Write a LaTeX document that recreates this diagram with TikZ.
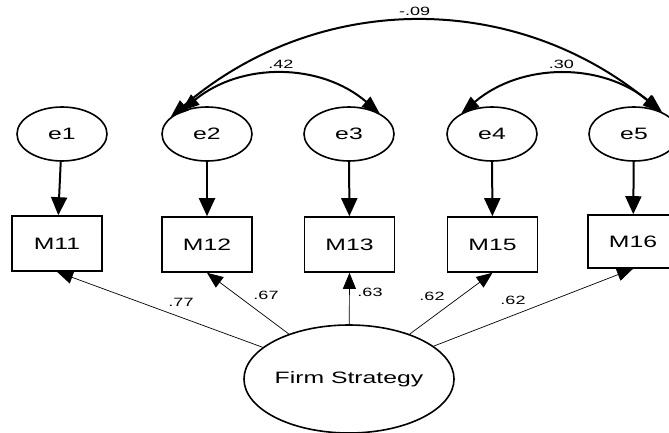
\documentclass[tikz,border=0pt]{standalone}
\usepackage{fontspec}
\setmainfont{Liberation Sans}[FakeStretch=1.5]
\usetikzlibrary{arrows.meta,shapes.geometric}
\begin{document}
\begin{tikzpicture}[x=1pt,y=1pt,
  err/.style={draw, ellipse, line width=1.6pt, minimum width=90pt, minimum height=54pt, inner sep=0pt, font=\fontsize{16.5}{18}\selectfont},
  obs/.style={draw, rectangle, line width=1.6pt, minimum width=90pt, minimum height=55pt, inner sep=0pt, font=\fontsize{16.5}{18}\selectfont},
  lat/.style={draw, ellipse, line width=1.6pt, minimum width=182pt, minimum height=108pt, inner sep=0pt, font=\fontsize{16.5}{18}\selectfont},
  lbl/.style={font=\fontsize{12}{14}\selectfont, inner sep=1pt},
  regpath/.style={-{Triangle[length=18pt,width=16pt]}, line width=2pt},
  loadpath/.style={-{Triangle[length=16pt,width=13pt]}, line width=0.7pt},
  covpath/.style={{Triangle[length=18pt,width=13pt]}-{Triangle[length=18pt,width=13pt]}, line width=2pt},
]
\useasboundingbox (0,0) rectangle (669,-433);
\clip (0,0) rectangle (669,-433);
% error terms
\node[err] (e1) at (62,-134) {e1};
\node[err] (e2) at (207,-134) {e2};
\node[err] (e3) at (349,-134) {e3};
\node[err] (e4) at (492,-134) {e4};
\node[err] (e5) at (634,-134) {e5};
% observed
\node[obs] (M11) at (57,-243.5) {M11};
\node[obs] (M12) at (207,-244.5) {M12};
\node[obs] (M13) at (349.5,-244.5) {M13};
\node[obs] (M15) at (492.5,-244.5) {M15};
\node[obs, minimum height=53pt] (M16) at (633,-241.5) {M16};
% latent
\node[lat] (FS) at (349,-379) {Firm Strategy};
% error paths
\draw[regpath] (e1) -- (M11);
\draw[regpath] (e2) -- (M12);
\draw[regpath] (e3) -- (M13);
\draw[regpath] (e4) -- (M15);
\draw[regpath] (e5) -- (M16);
% loadings
\draw[loadpath] (FS) -- (M11.south);
\draw[loadpath] (FS) -- (M12.south);
\draw[loadpath] (FS) -- (M13.south);
\draw[loadpath] (FS) -- (M15.south);
\draw[loadpath] (FS) -- (M16.south);
\node[lbl] (l1) at (181,-302) {.77};
\node[lbl] (l2) at (266,-295) {.67};
\node[lbl] (l3) at (370,-292) {.63};
\node[lbl] (l4) at (432,-296) {.62};
\node[lbl] (l5) at (513,-300) {.62};
% covariances
\draw[covpath] (e2.155) to[bend left=40] node[lbl, above=4pt] (c1) {-.09} (e5.40);
\draw[covpath] (e2.138) to[bend left=40] node[lbl, above=4pt] (c2) {.42} (e3.34);
\draw[covpath] (e4.146) to[bend left=40] node[lbl, above=4pt] (c3) {.30} (e5.38);
\end{tikzpicture}
\end{document}
